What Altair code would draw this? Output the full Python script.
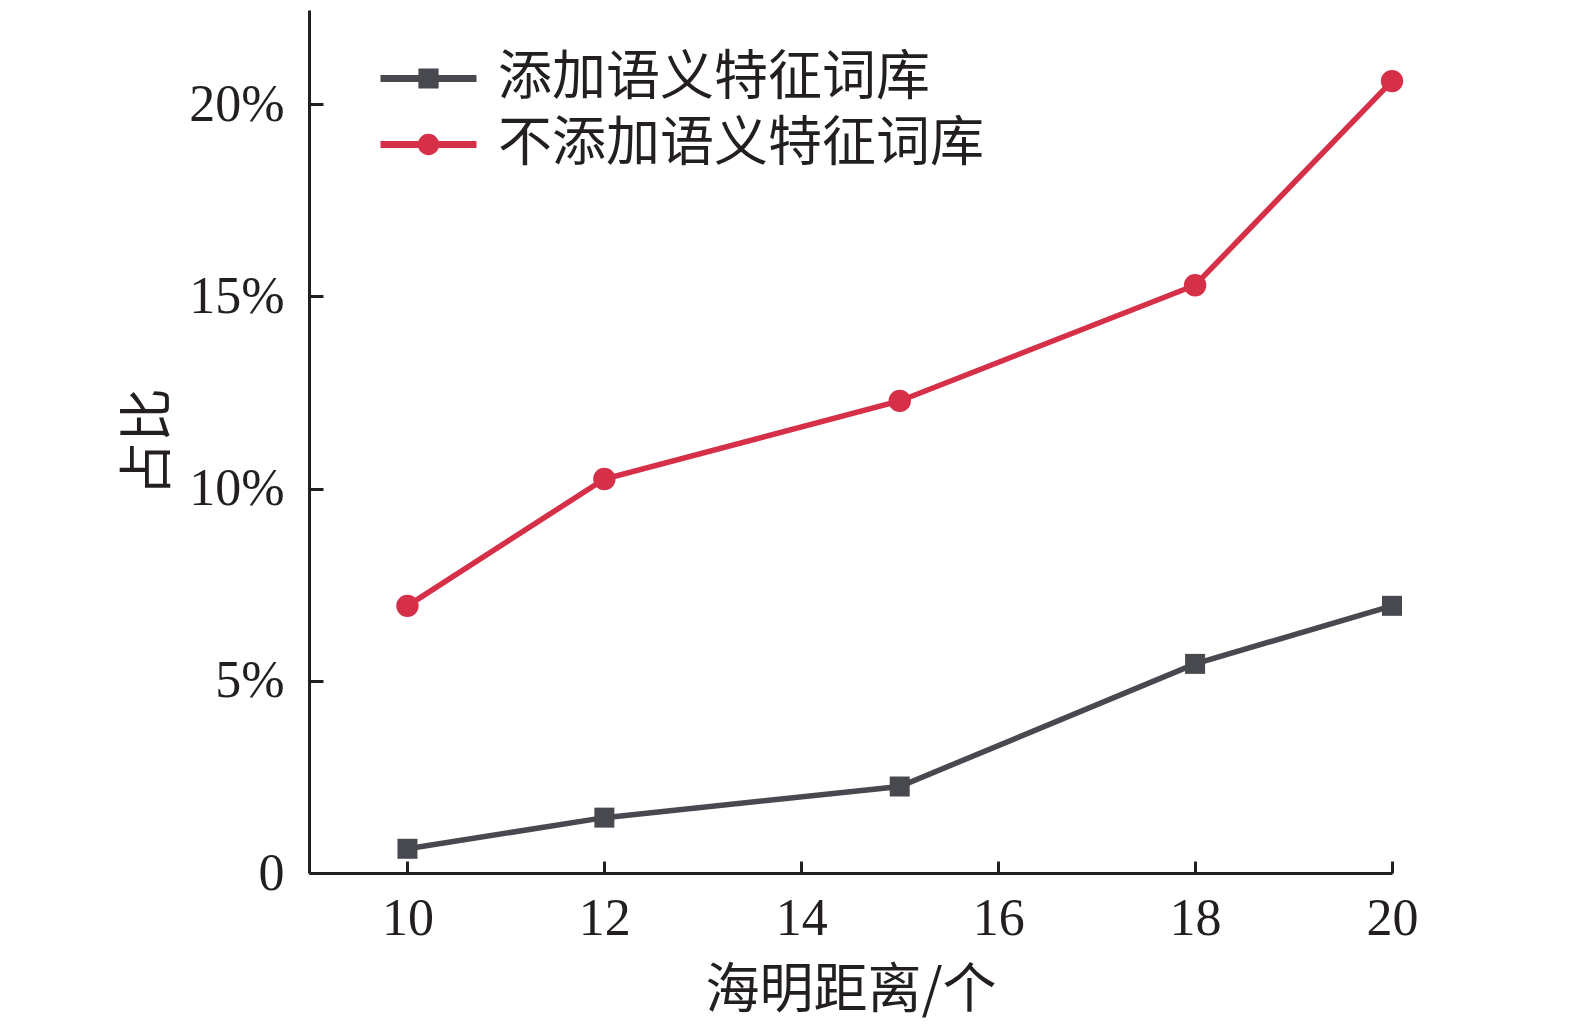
import altair as alt
import pandas as pd

# ---- data ----
hamming = [10, 12, 15, 18, 20]
with_lib = [0.63, 1.44, 2.25, 5.44, 6.95]
without_lib = [6.95, 10.25, 12.28, 15.29, 20.6]
series_names = ["添加语义特征词库", "不添加语义特征词库"]
series_colors = ["#47494f", "#d62f48"]
x_ticks = [10, 12, 14, 16, 18, 20]
y_ticks = [0, 5, 10, 15, 20]

rows = []
for xv, a, b in zip(hamming, with_lib, without_lib):
    rows.append({"x": xv, "y": a, "series": series_names[0], "col": series_colors[0]})
    rows.append({"x": xv, "y": b, "series": series_names[1], "col": series_colors[1]})
df = pd.DataFrame(rows)

W, H = 1083, 863
INK = "#231f20"
CJK = "Noto Sans CJK SC"
SERIF = "Liberation Serif"

xscale = alt.Scale(domain=[9, 20], nice=False, zero=False)
yscale = alt.Scale(domain=[0, 22.45], nice=False, zero=True)

leg_paths = [
    "M-1.6,0H1.6M-0.22,-0.22H0.22V0.22H-0.22Z",
    "M-1.6,0H1.6M-0.24,0A0.24,0.24,0,1,0,0.24,0A0.24,0.24,0,1,0,-0.24,0Z",
]

x_main = alt.Axis(values=x_ticks, ticks=False, tickSize=0, labelPadding=20,
                  labelFlush=False, labelOverlap=False,
                  title="海明距离/个", titlePadding=20, domainWidth=3)
y_main = alt.Axis(values=y_ticks, ticks=False, tickSize=0, labelPadding=25,
                  labelFlush=False, labelOverlap=False,
                  labelExpr="datum.value == 0 ? '0' : datum.value + '%'",
                  title="占比", titlePadding=12, domainWidth=3)

base = alt.Chart(df)
ident = alt.Color("col:N", scale=None)

line = base.mark_line(strokeWidth=5.5).encode(
    x=alt.X("x:Q", scale=xscale, axis=x_main),
    y=alt.Y("y:Q", scale=yscale, axis=y_main),
    color=ident,
    detail="series:N",
)

squares = base.transform_filter(
    alt.datum.series == series_names[0]
).mark_square(size=400, opacity=1).encode(
    x=alt.X("x:Q", scale=xscale, axis=None),
    y=alt.Y("y:Q", scale=yscale, axis=None),
    color=ident,
)

circles = base.transform_filter(
    alt.datum.series == series_names[1]
).mark_circle(size=500, opacity=1).encode(
    x=alt.X("x:Q", scale=xscale, axis=None),
    y=alt.Y("y:Q", scale=yscale, axis=None),
    color=ident,
)

leg = alt.Legend(
    title=None, orient="none", legendX=86, legendY=35, padding=0,
    rowPadding=5, labelOffset=36, symbolSize=3600, symbolStrokeWidth=7,
    symbolOpacity=1, labelFont=CJK, labelFontSize=54, labelColor=INK,
    labelLimit=1000,
)

legend_layer = base.mark_point(filled=True, opacity=0, size=10).encode(
    x=alt.X("x:Q", scale=xscale,
            axis=alt.Axis(orient="top", offset=-H, values=x_ticks, labels=False,
                          domain=False, ticks=True, tickSize=12, tickWidth=3,
                          tickColor=INK, title=None)),
    y=alt.Y("y:Q", scale=yscale,
            axis=alt.Axis(orient="right", offset=-W, values=y_ticks, labels=False,
                          domain=False, ticks=True, tickSize=14, tickWidth=3,
                          tickColor=INK, title=None)),
    fill=alt.Fill("series:N", scale=alt.Scale(domain=series_names, range=series_colors), legend=leg),
    stroke=alt.Stroke("series:N", scale=alt.Scale(domain=series_names, range=series_colors), legend=leg),
    shape=alt.Shape("series:N", scale=alt.Scale(domain=series_names, range=leg_paths), legend=leg),
)

chart = alt.layer(line, squares, circles, legend_layer).resolve_axis(
    x="independent", y="independent"
).properties(
    width=W, height=H,
    background="white",
    autosize=alt.AutoSizeParams(type="none"),
    padding={"left": 301, "top": 2, "right": 90, "bottom": 150},
).configure_view(stroke=None).configure_axis(
    grid=False, domainColor=INK, domainWidth=3, labelFont=SERIF,
    labelFontSize=52, labelColor=INK, titleFont=CJK, titleFontSize=54,
    titleFontWeight="normal", titleColor=INK,
)

chart.save("out.html", embed_options={"renderer": "svg", "actions": False})
